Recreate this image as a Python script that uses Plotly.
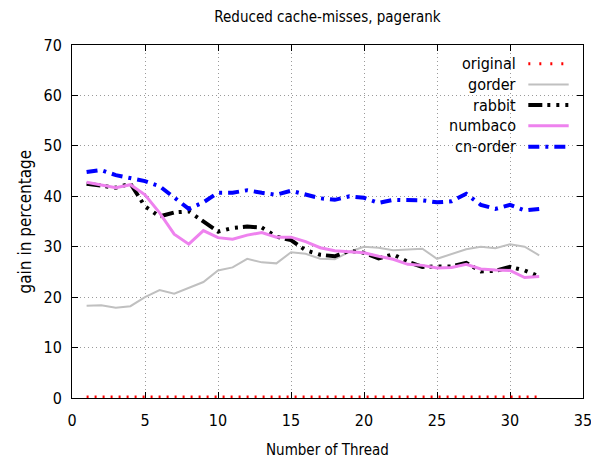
import plotly.graph_objects as go

threads = list(range(1, 33))
original = [0.0] * 32
gorder = [18.3, 18.4, 17.9, 18.2, 20.0, 21.4, 20.7, 21.9, 23.0, 25.3, 25.9, 27.6, 26.9, 26.7, 28.9, 28.6,
          27.6, 27.5, 29.0, 30.0, 29.8, 29.3, 29.5, 29.6, 27.6, 28.6, 29.5, 30.0, 29.7, 30.5, 30.0, 28.3]
rabbit = [42.5, 42.1, 41.7, 42.5, 38.0, 36.0, 36.8, 37.0, 35.0, 33.0, 33.7, 34.0, 33.8, 32.0, 31.3, 29.3,
          28.4, 28.1, 29.2, 28.8, 27.7, 28.5, 27.0, 26.0, 26.1, 26.1, 26.8, 25.1, 25.2, 26.0, 25.3, 24.1]
numbaco = [42.8, 42.3, 41.7, 42.3, 40.3, 36.7, 32.5, 30.5, 33.2, 31.8, 31.5, 32.3, 32.8, 31.9, 31.9, 31.0,
           29.8, 29.2, 29.0, 28.8, 28.1, 27.5, 26.5, 26.3, 25.8, 25.9, 26.5, 25.6, 25.4, 25.3, 23.9, 24.1]
cn_order = [44.8, 45.2, 44.2, 43.7, 43.0, 42.0, 39.7, 37.5, 38.8, 40.7, 40.7, 41.2, 40.7, 40.3, 41.1, 40.3,
            39.6, 39.3, 40.0, 39.7, 38.7, 39.3, 39.2, 39.2, 38.8, 39.0, 40.5, 38.3, 37.5, 38.3, 37.2, 37.5]

names = ["original", "gorder", "rabbit", "numbaco", "cn-order"]
series = [original, gorder, rabbit, numbaco, cn_order]
colors = ["#ff0000", "#c0c0c0", "#000000", "#ee82ee", "#0000ff"]
widths = [5, 2, 4, 3, 4]
dashes = ["2px,6px", "solid", "14px,5px,3px,6px,3px,6px,3px,5px", "solid", "11px,6px,3px,6px"]
legend_widths = [3, 2, 4, 3, 4]
legend_dashes = ["2px,9px", "solid", "14px,5px,3px,6px,3px,6px,3px,5px", "solid", "11px,6px,3px,6px"]

FONT = "DejaVu Sans Condensed, DejaVu Sans, sans-serif"

fig = go.Figure()
for nm, ys, c, w, d in zip(names, series, colors, widths, dashes):
    fig.add_trace(go.Scatter(x=threads, y=ys, mode="lines", name=nm,
                             line=dict(color=c, width=w, dash=d), showlegend=False))

# gnuplot-style key: text right-aligned, line sample to its right
row_y = [0.947, 0.888, 0.830, 0.771, 0.712]
for nm, c, w, d, yy in zip(names, colors, legend_widths, legend_dashes, row_y):
    fig.add_annotation(xref="paper", yref="paper", x=0.872, y=yy, text=nm, showarrow=False,
                       xanchor="right", yanchor="middle", font=dict(size=16, color="#000"))
    fig.add_shape(type="line", xref="paper", yref="paper", x0=0.893, x1=0.972, y0=yy, y1=yy,
                  line=dict(color=c, width=w, dash=d))

# axis titles
fig.add_annotation(xref="paper", yref="paper", x=0.5, y=-0.146, text="Number of Thread",
                   showarrow=False, xanchor="center", yanchor="middle", font=dict(size=15))
fig.add_annotation(xref="paper", yref="paper", x=-0.092, y=0.5, text="gain in percentage",
                   showarrow=False, xanchor="center", yanchor="middle", textangle=-90,
                   font=dict(size=17))

axis_common = dict(showline=True, linecolor="black", linewidth=1, mirror="allticks",
                   ticks="inside", ticklen=6, tickcolor="black", layer="below traces",
                   showgrid=True, gridcolor="#9a9a9a", griddash="1px,3px", gridwidth=1,
                   zeroline=False, automargin=False, tickfont=dict(size=16, color="#000"))

fig.update_layout(
    width=599, height=461,
    paper_bgcolor="white", plot_bgcolor="white",
    font=dict(family=FONT, size=15, color="#000"),
    margin=dict(l=64, r=24, t=37, b=71, autoexpand=False),
    title=dict(text="Reduced cache-misses, pagerank", x=0.5, xref="paper", xanchor="center",
               yref="container", y=0.993, yanchor="top", font=dict(size=15), automargin=False),
    xaxis=dict(range=[0, 35], dtick=5, tick0=0, ticklabelstandoff=8, **axis_common),
    yaxis=dict(range=[0, 70], dtick=10, tick0=0, ticklabelstandoff=6, **axis_common),
)

fig.write_html("out.html")
